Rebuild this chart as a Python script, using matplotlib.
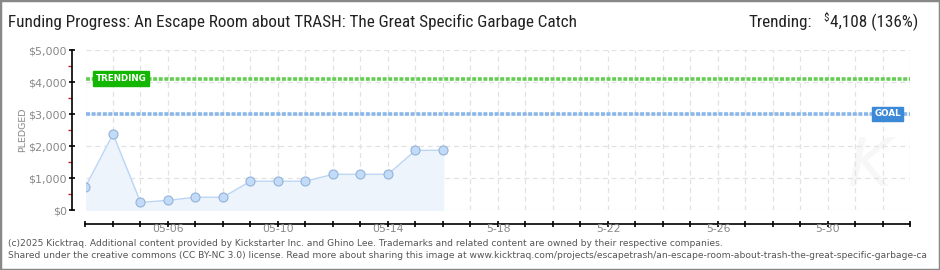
import numpy as np
import pandas as pd
import matplotlib
matplotlib.use("Agg")
import matplotlib.pyplot as plt
import matplotlib.dates as mdates
from matplotlib import font_manager
from matplotlib.patches import Rectangle
from matplotlib.ticker import MultipleLocator, FuncFormatter

# data
dates = pd.date_range("2025-05-03", "2025-05-16", freq="D")
pledged = [730, 2370, 240, 300, 400, 400, 900, 900, 900, 1115, 1115, 1115, 1865, 1865]
goal = 3000
trending = 4108
trend_pct = 136
start_day = pd.Timestamp("2025-05-03")
end_day = pd.Timestamp("2025-06-02")
label_days = pd.date_range("2025-05-06", "2025-05-30", freq="4D")
label_text = ["05-06", "05-10", "05-14", "5-18", "5-22", "5-26", "5-30"]
y_ticks = [0, 1000, 2000, 3000, 4000, 5000]

# pick a narrow face if one exists, else fall back to plain DejaVu
names = {f.name for f in font_manager.fontManager.ttflist}
narrow = None
for cand in ["Liberation Sans Narrow", "DejaVu Sans Condensed", "Roboto Condensed", "Open Sans Condensed"]:
    if cand in names:
        narrow = cand
        break
if narrow:
    title_font = [narrow, "DejaVu Sans"]
    title_size = 12.35
else:
    title_font = ["DejaVu Sans"]
    title_size = 9.6
plt.rcParams['font.family'] = ['DejaVu Sans']

fig = plt.figure(figsize=(9.4, 2.7), dpi=100)
W, H = 940, 270
ax = fig.add_axes([85.5 / W, 60 / H, 825 / W, 160 / H])

x = mdates.date2num(dates)
ax.fill_between(x, pledged, 0, color="#edf4fc", zorder=1)
ax.plot(x, pledged, color="#bcd6f4", lw=1, zorder=2)
ax.plot(x, pledged, "o", ms=6.5, mfc="#c2dbf8", mec="#93b3d8", mew=0.8, zorder=3)

ax.axhline(trending, color="#66cc55", lw=2.6, dashes=(1.1, 0.45), zorder=2)
ax.axhline(goal, color="#8ab6e8", lw=2.6, dashes=(1.1, 0.45), zorder=2)

x0 = mdates.date2num(start_day)
ax.set_xlim(x0, mdates.date2num(end_day))
ax.set_ylim(0, 5000)

# labels on the reference lines
ax.text(x0 + 0.36, trending, "TRENDING", color="white",
        fontsize=6.3, fontweight="bold", va="center", ha="left", zorder=5,
        bbox=dict(boxstyle="square,pad=0.3", fc="#13b600", ec="#13b600"))
ax.text(x0 + 28.68, goal, "GOAL", color="white",
        fontsize=6.3, fontweight="bold", va="center", ha="left", zorder=5,
        bbox=dict(boxstyle="square,pad=0.3", fc="#3c89d8", ec="#3c89d8"))

# axes styling
for s in ["top", "right"]:
    ax.spines[s].set_visible(False)
ax.spines["left"].set_position(("outward", 9.5))
ax.spines["bottom"].set_position(("outward", 10))
ax.spines["left"].set_linewidth(1.2)
ax.spines["bottom"].set_linewidth(1.2)

ax.set_yticks(y_ticks)
ax.yaxis.set_major_formatter(FuncFormatter(lambda v, p: "${:,.0f}".format(v)))
ax.yaxis.set_minor_locator(MultipleLocator(500))
ax.tick_params(axis="y", which="major", direction="inout", length=4, width=1.2, color="black",
               labelsize=8, labelcolor="#888888", pad=2)
ax.tick_params(axis="y", which="minor", direction="out", length=3, width=1.0, color="#cc2222")

ax.xaxis.set_major_locator(mdates.DayLocator())
ax.xaxis.set_major_formatter(plt.NullFormatter())
ax.tick_params(axis="x", which="major", direction="inout", length=5, width=1.2, color="black")
for d, t in zip(label_days, label_text):
    ax.text(mdates.date2num(d), -14.5 / 160, t, transform=ax.get_xaxis_transform(),
            ha="center", va="top", fontsize=7.8, color="#888888")

ax.grid(True, which="major", color="#e2e2e2", lw=0.9, ls=(0, (4, 3)))
ax.set_axisbelow(True)

ax.set_ylabel("PLEDGED", fontsize=6.8, color="#888888", labelpad=1)

# watermark
ax.text(0.95, 0.27, "K", transform=ax.transAxes, fontsize=48, style="italic",
        color="#f7f7f7", ha="center", va="center", zorder=0)

# header
fig.text(8 / W, 1 - 22 / H, "Funding Progress: An Escape Room about TRASH: The Great Specific Garbage Catch",
         fontsize=title_size, family=title_font, color="#222222", va="center", ha="left")
renderer = fig.canvas.get_renderer()
t_val = fig.text(918 / W, 1 - 22 / H, "{:,} ({}%)".format(trending, trend_pct),
                 fontsize=title_size, family=title_font, color="#222222", va="center", ha="right")
left = t_val.get_window_extent(renderer).x0
t_cur = fig.text((left - 0.5) / W, 1 - 17.5 / H, "$", fontsize=title_size * 0.65, family=title_font,
                 color="#222222", va="center", ha="right")
left = t_cur.get_window_extent(renderer).x0
fig.text((left - 12) / W, 1 - 22 / H, "Trending:", fontsize=title_size, family=title_font,
         color="#222222", va="center", ha="right")

# footer
fig.text(8 / W, 1 - 243 / H,
         "(c)2025 Kicktraq. Additional content provided by Kickstarter Inc. and Ghino Lee. Trademarks and related content are owned by their respective companies.",
         fontsize=6.6, color="#555555", va="center", ha="left")
fig.text(8 / W, 1 - 256 / H,
         "Shared under the creative commons (CC BY-NC 3.0) license. Read more about sharing this image at www.kicktraq.com/projects/escapetrash/an-escape-room-about-trash-the-great-specific-garbage-ca",
         fontsize=6.6, color="#555555", va="center", ha="left")

fig.patches.append(Rectangle((0, 0), 1, 1, transform=fig.transFigure, fill=False,
                             ec="#888888", lw=2.5))

fig.savefig("out.png", dpi=100)
